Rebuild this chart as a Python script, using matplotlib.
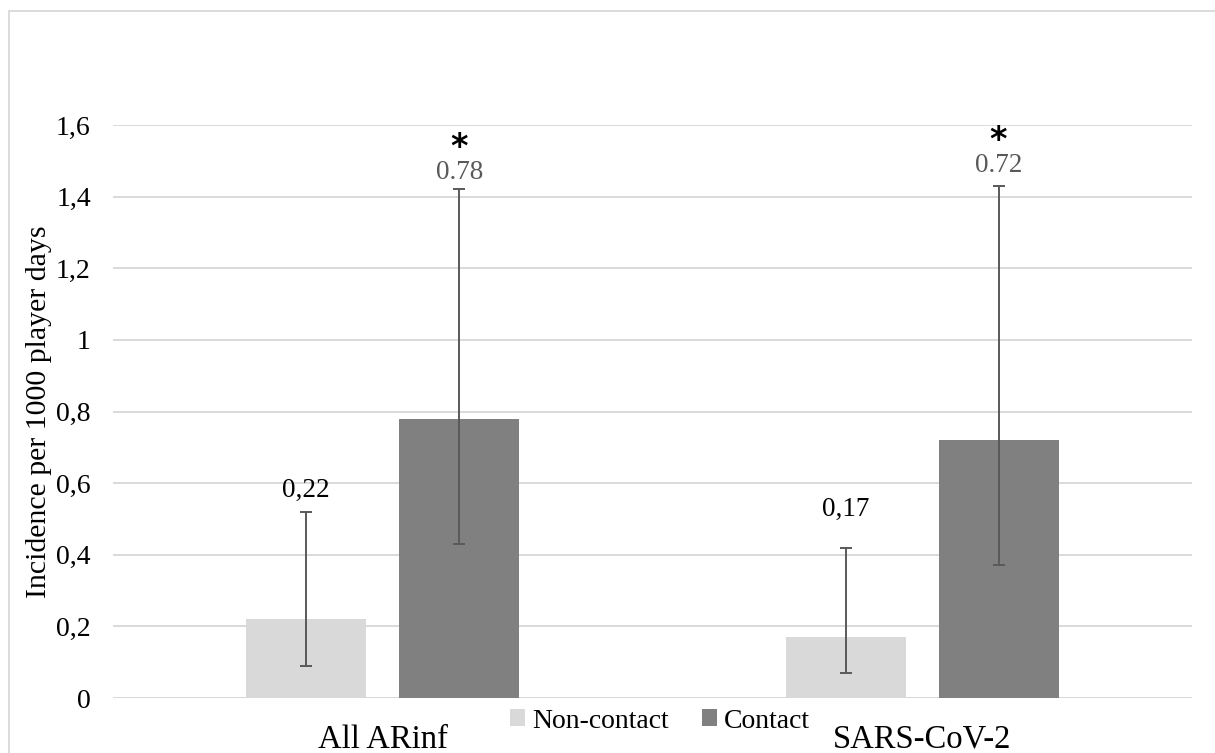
import matplotlib
matplotlib.use("Agg")
import matplotlib.pyplot as plt
from matplotlib.patches import Patch, Rectangle
import numpy as np

plt.rcParams["font.family"] = ["Liberation Serif", "DejaVu Serif"]
plt.rcParams["mathtext.fontset"] = "dejavusans"

categories = ["All ARinf", "SARS-CoV-2"]
groups = ["Non-contact", "Contact"]
non_contact = [0.22, 0.17]
non_contact_lo = [0.09, 0.07]
non_contact_hi = [0.52, 0.42]
contact = [0.78, 0.72]
contact_lo = [0.43, 0.37]
contact_hi = [1.42, 1.43]
yticks = [0, 0.2, 0.4, 0.6, 0.8, 1.0, 1.2, 1.4, 1.6]

LIGHT = "#D9D9D9"
DARK = "#808080"
ERR = "#595959"
GRID = "#D9D9D9"

W, H = 1215, 753
fig = plt.figure(figsize=(W / 100, H / 100), dpi=100)
ax = fig.add_axes([113 / W, 1 - 698 / H, (1192 - 113) / W, (698 - 125) / H])

# thin frame around the chart area
fig.add_artist(Rectangle((8.5 / W, -0.1), 1.2, 1.1 - 11.5 / H, transform=fig.transFigure,
                         fill=False, edgecolor=GRID, linewidth=1.3))

x = np.arange(len(categories))
bw = 0.222
off = 0.142

series = [
    (non_contact, non_contact_lo, non_contact_hi, LIGHT, -off, "black", [21, 38]),
    (contact, contact_lo, contact_hi, DARK, off, ERR, [17, 20]),
]

for (vals, lo, hi, color, dx, tcolor, lab_off), name in zip(series, groups):
    vals = np.array(vals)
    yerr = [vals - np.array(lo), np.array(hi) - vals]
    ax.bar(x + dx, vals, bw, color=color, zorder=2, label=name)
    ax.errorbar(x + dx, vals, yerr=yerr, fmt="none", ecolor=ERR, elinewidth=1.4,
                capsize=4.5, capthick=1.4, zorder=3)
    for xi, v, h, o in zip(x + dx, vals, hi, lab_off):
        txt = f"{v:.2f}"
        if name == "Non-contact":
            txt = txt.replace(".", ",")
        ax.annotate(txt, (xi, h), xytext=(0, o), textcoords="offset pixels",
                    ha="center", va="center", fontsize=19.5, color=tcolor)
        if name == "Contact":
            # significance marker, mathtext keeps its box tight to the glyph
            ax.annotate(r"$\mathbf{*}$", (xi, h), xytext=(0, o + 26),
                        textcoords="offset pixels", ha="center", va="center",
                        fontsize=24, color="black")

ax.set_xlim(-0.5, 1.5)
ax.set_ylim(0, 1.6)
ax.set_yticks(yticks)
ax.set_yticklabels([("%g" % t).replace(".", ",") for t in yticks], fontsize=20)
ax.set_xticks(x)
ax.set_xticklabels(categories, fontsize=23.5)
ax.tick_params(axis="y", length=0, pad=16)
ax.tick_params(axis="x", length=0, pad=19)
ax.set_ylabel("Incidence per 1000 player days", fontsize=21.5, labelpad=3)

ax.grid(axis="y", color=GRID, linewidth=1.4, zorder=0)
ax.set_axisbelow(True)
for s in ax.spines.values():
    s.set_visible(False)
ax.axhline(0, color=GRID, linewidth=1.4, zorder=1)

handles = [Patch(facecolor=LIGHT), Patch(facecolor=DARK)]
fig.legend(handles, groups, loc="center", bbox_to_anchor=(660 / W, 1 - 721 / H),
           ncol=2, frameon=False, fontsize=20, handlelength=0.55, handleheight=0.55,
           handletextpad=0.25, columnspacing=1.2, borderpad=0)

fig.savefig("out.png", dpi=100, facecolor="white")
